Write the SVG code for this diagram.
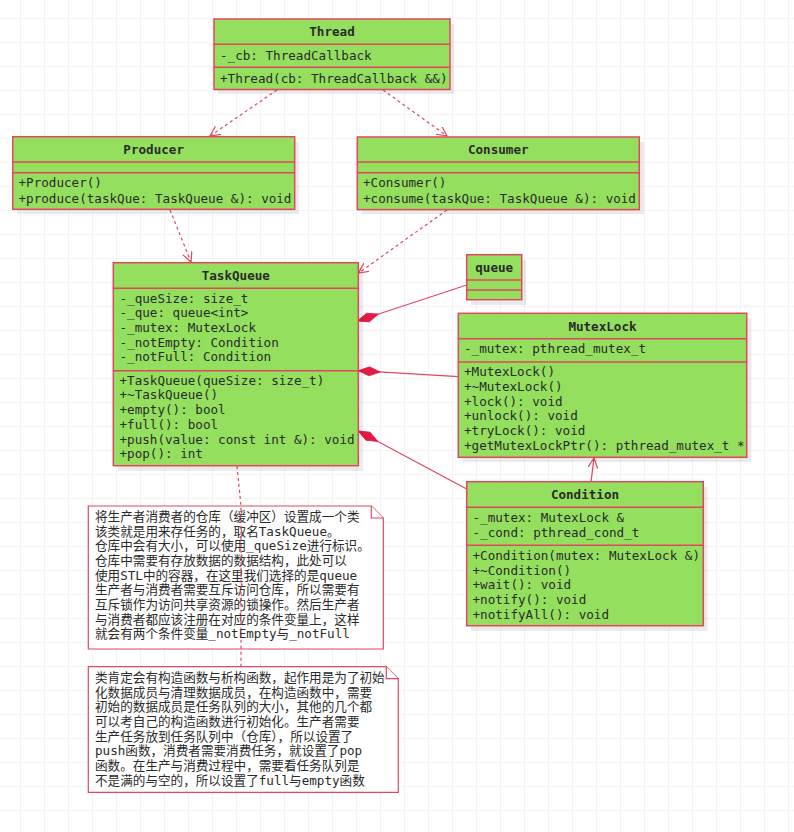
<svg xmlns="http://www.w3.org/2000/svg" width="794" height="832" viewBox="0 0 794 832">
<style>
.box{fill:#94e05e;stroke:#e2475f;stroke-width:1.5}
.div{stroke:#e2475f;stroke-width:1.5;fill:none}
.shadow{fill:#000;opacity:0.08}
.t{font-family:"DejaVu Sans Mono","Liberation Mono",monospace;font-size:12.6px;fill:#2a2a2a}
.b{font-weight:bold;text-anchor:middle}
.note{fill:#fff;stroke:#e2475f;stroke-width:1.2}
.n{font-family:"DejaVu Sans Mono","Noto Sans CJK SC",monospace;font-size:12.6px;fill:#2a2a2a}
.dep{stroke:#e2475f;stroke-width:1.2;fill:none;stroke-dasharray:3,3}
.ln{stroke:#e2475f;stroke-width:1.2;fill:none}
</style>
<defs>
<pattern id="grid" x="20" y="18" width="24" height="24" patternUnits="userSpaceOnUse">
<path d="M0,0 L24,0 M0,0 L0,24" stroke="#ececec" stroke-width="1.2" fill="none"/>
</pattern>
<marker id="open" markerWidth="12" markerHeight="12" refX="10" refY="5" orient="auto" markerUnits="userSpaceOnUse" viewBox="0 0 12 12">
<path d="M0,0 L10,5 L0,10" fill="none" stroke="#e2475f" stroke-width="1.2"/>
</marker>
<marker id="diamond" markerWidth="24" markerHeight="12" refX="0" refY="5" orient="auto" markerUnits="userSpaceOnUse" viewBox="0 0 24 10">
<path d="M0,5 L11,0.5 L22,5 L11,9.5 Z" fill="#e01c45" stroke="#e01c45" stroke-width="0.8"/>
</marker>
</defs>
<rect x="0" y="0" width="794" height="832" fill="#fff"/>
<rect x="0" y="0" width="794" height="832" fill="url(#grid)"/>

<g id="connectors">
<path class="dep" d="M277,90 L210,136" marker-end="url(#open)"/>
<path class="dep" d="M383,90 L447,136" marker-end="url(#open)"/>
<path class="dep" d="M170,210 L191,262" marker-end="url(#open)"/>
<path class="dep" d="M447,210 L358.5,273" marker-end="url(#open)"/>
<path class="ln" d="M357.5,321 L466.7,285" marker-start="url(#diamond)"/>
<path class="ln" d="M358.3,370.7 L458.3,376.7" marker-start="url(#diamond)"/>
<path class="ln" d="M358.3,431 L466.7,489" marker-start="url(#diamond)"/>
<path class="ln" d="M591,482 L594,458" marker-end="url(#open)"/>
</g>

<g id="Thread">
<rect class="shadow" x="218" y="24" width="236" height="70"/>
<rect class="box" x="214" y="19" width="236" height="70.5"/>
<path class="div" d="M214,44.3 H450 M214,67.3 H450"/>
<text class="t b" x="332" y="36">Thread</text>
<text class="t" x="220" y="60">-_cb: ThreadCallback</text>
<text class="t" x="220" y="82.5">+Thread(cb: ThreadCallback &amp;&amp;)</text>
</g>

<g id="Producer">
<rect class="shadow" x="17" y="142" width="282" height="72"/>
<rect class="box" x="12.7" y="136.7" width="282" height="72.6"/>
<path class="div" d="M12.7,162 H294.7 M12.7,172.7 H294.7"/>
<text class="t b" x="153.7" y="154">Producer</text>
<text class="t" x="18.5" y="187">+Producer()</text>
<text class="t" x="18.5" y="202.5">+produce(taskQue: TaskQueue &amp;): void</text>
</g>

<g id="Consumer">
<rect class="shadow" x="362" y="142" width="282" height="72"/>
<rect class="box" x="357.3" y="137" width="282" height="72.6"/>
<path class="div" d="M357.3,162 H639.3 M357.3,172.7 H639.3"/>
<text class="t b" x="498.3" y="154">Consumer</text>
<text class="t" x="363" y="187">+Consumer()</text>
<text class="t" x="363" y="202.5">+consume(taskQue: TaskQueue &amp;): void</text>
</g>

<g id="TaskQueue">
<rect class="shadow" x="118" y="268" width="245" height="203"/>
<rect class="box" x="113.3" y="262.7" width="245" height="203"/>
<path class="div" d="M113.3,288.3 H358.3 M113.3,370.7 H358.3"/>
<text class="t b" x="235.8" y="280">TaskQueue</text>
<text class="t" x="119.5" y="302.5">-_queSize: size_t</text>
<text class="t" x="119.5" y="317.3">-_que: queue&lt;int&gt;</text>
<text class="t" x="119.5" y="332">-_mutex: MutexLock</text>
<text class="t" x="119.5" y="346.5">-_notEmpty: Condition</text>
<text class="t" x="119.5" y="361">-_notFull: Condition</text>
<text class="t" x="119.5" y="384.5">+TaskQueue(queSize: size_t)</text>
<text class="t" x="119.5" y="399.3">+~TaskQueue()</text>
<text class="t" x="119.5" y="414">+empty(): bool</text>
<text class="t" x="119.5" y="428.7">+full(): bool</text>
<text class="t" x="119.5" y="443.5">+push(value: const int &amp;): void</text>
<text class="t" x="119.5" y="458.3">+pop(): int</text>
</g>

<g id="queue">
<rect class="shadow" x="471" y="260" width="55" height="45"/>
<rect class="box" x="466.7" y="254.7" width="55" height="45"/>
<path class="div" d="M466.7,280 H521.7 M466.7,290 H521.7"/>
<text class="t b" x="494.2" y="272">queue</text>
</g>

<g id="MutexLock">
<rect class="shadow" x="463" y="318" width="288.4" height="144"/>
<rect class="box" x="458.3" y="313.3" width="288.4" height="144"/>
<path class="div" d="M458.3,338.7 H746.7 M458.3,362 H746.7"/>
<text class="t b" x="602.5" y="330.5">MutexLock</text>
<text class="t" x="464" y="353.3">-_mutex: pthread_mutex_t</text>
<text class="t" x="464" y="376.3">+MutexLock()</text>
<text class="t" x="464" y="391">+~MutexLock()</text>
<text class="t" x="464" y="405.7">+lock(): void</text>
<text class="t" x="464" y="420.3">+unlock(): void</text>
<text class="t" x="464" y="435.2">+tryLock(): void</text>
<text class="t" x="464" y="450">+getMutexLockPtr(): pthread_mutex_t *</text>
</g>

<g id="Condition">
<rect class="shadow" x="471" y="487" width="236.6" height="144"/>
<rect class="box" x="466.7" y="481.7" width="236.6" height="144"/>
<path class="div" d="M466.7,507.3 H703.3 M466.7,545.3 H703.3"/>
<text class="t b" x="585" y="498.5">Condition</text>
<text class="t" x="472.5" y="522">-_mutex: MutexLock &amp;</text>
<text class="t" x="472.5" y="536.5">-_cond: pthread_cond_t</text>
<text class="t" x="472.5" y="560">+Condition(mutex: MutexLock &amp;)</text>
<text class="t" x="472.5" y="574.6">+~Condition()</text>
<text class="t" x="472.5" y="589.3">+wait(): void</text>
<text class="t" x="472.5" y="604">+notify(): void</text>
<text class="t" x="472.5" y="618.7">+notifyAll(): void</text>
</g>

<g id="note1">
<path class="note" d="M88.3,506 H371.3 L383.3,518 V649 H88.3 Z"/>
<path class="note" d="M371.3,506 V518 H383.3" fill="none"/>
<text class="n" x="95" y="521">将生产者消费者的仓库（缓冲区）设置成一个类</text>
<text class="n" x="95" y="535.7">该类就是用来存任务的，取名TaskQueue。</text>
<text class="n" x="95" y="550.3">仓库中会有大小，可以使用_queSize进行标识。</text>
<text class="n" x="95" y="565">仓库中需要有存放数据的数据结构，此处可以</text>
<text class="n" x="95" y="579.7">使用STL中的容器，在这里我们选择的是queue</text>
<text class="n" x="95" y="594.3">生产者与消费者需要互斥访问仓库，所以需要有</text>
<text class="n" x="95" y="609">互斥锁作为访问共享资源的锁操作。然后生产者</text>
<text class="n" x="95" y="623.7">与消费者都应该注册在对应的条件变量上，这样</text>
<text class="n" x="95" y="638.3">就会有两个条件变量_notEmpty与_notFull</text>
</g>

<g id="note2">
<path class="note" d="M88.3,666.7 H386.3 L398.3,678.7 V792.3 H88.3 Z"/>
<path class="note" d="M386.3,666.7 V678.7 H398.3" fill="none"/>
<text class="n" x="95" y="682">类肯定会有构造函数与析构函数，起作用是为了初始</text>
<text class="n" x="95" y="696.7">化数据成员与清理数据成员，在构造函数中，需要</text>
<text class="n" x="95" y="711.3">初始的数据成员是任务队列的大小，其他的几个都</text>
<text class="n" x="95" y="726">可以考自己的构造函数进行初始化。生产者需要</text>
<text class="n" x="95" y="740.7">生产任务放到任务队列中（仓库），所以设置了</text>
<text class="n" x="95" y="755.3">push函数，消费者需要消费任务，就设置了pop</text>
<text class="n" x="95" y="770">函数。在生产与消费过程中，需要看任务队列是</text>
<text class="n" x="95" y="784.7">不是满的与空的，所以设置了full与empty函数</text>
</g>

<g id="note-links">
<path class="dep" d="M237,466 L241,506 L241,667"/>
</g>
</svg>
